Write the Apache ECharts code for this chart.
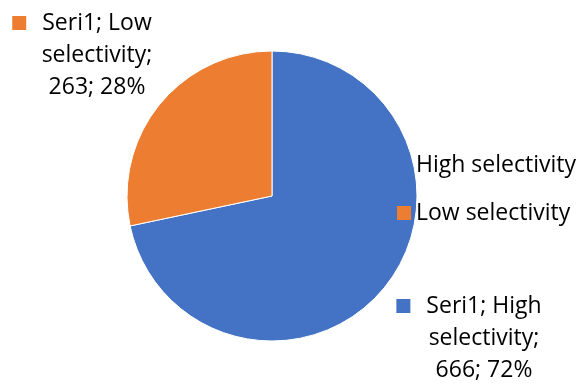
<!DOCTYPE html>
<html>
<head>
<meta charset="utf-8">
<script src="https://cdn.jsdelivr.net/npm/echarts@6/dist/echarts.min.js"></script>
<style>
  html, body { margin: 0; padding: 0; background: #fff; }
  #chart { width: 582px; height: 385px; }
</style>
</head>
<body>
<div id="chart"></div>
<script>
const seriesName = "Seri1";
const categories = ["High selectivity", "Low selectivity"];
const values = [666, 263];
const colors = ["#4472C4", "#ED7D31"];

// where each data label sits (top-centre of the text block)
const labelSpots = [
  { x: 469, y: 290 },
  { x: 82, y: 7 },
];

const font = "'Open Sans', 'Liberation Sans', sans-serif";

const chart = echarts.init(document.getElementById("chart"));

const option = {
  animation: false,
  color: colors,
  legend: {
    orient: "vertical",
    left: 392,
    top: 148,
    itemWidth: 14,
    itemHeight: 14,
    itemGap: 24,
    icon: "rect",
    data: categories,
    itemStyle: { borderWidth: 0 },
    textStyle: {
      fontFamily: font,
      fontSize: 23,
      lineHeight: 24,
      color: "#000",
    },
  },
  series: [
    {
      name: seriesName,
      type: "pie",
      center: [272, 196],
      radius: [0, 145],
      startAngle: 90,
      clockwise: true,
      itemStyle: { borderColor: "#fff", borderWidth: 1 },
      labelLine: { show: false },
      emphasis: { disabled: true },
      label: {
        show: true,
        position: "outside",
        overflow: "none",
        fontFamily: font,
        fontSize: 23,
        lineHeight: 32,
        color: "#000",
        align: "center",
        formatter: function (p) {
          let parts = p.name.split(" ");
          let key = p.dataIndex === 0 ? "m0" : "m1";
          return (
            "{" + key + "|}{g|}" + p.seriesName + "; " + parts[0] + "\n" +
            "{s|}" + parts[1] + ";\n" +
            "{s|}" + p.value + "; " + Math.round(p.percent) + "%"
          );
        },
        rich: {
          m0: { width: 14, height: 14, backgroundColor: colors[0] },
          m1: { width: 14, height: 14, backgroundColor: colors[1] },
          g: { width: 16 },
          s: { width: 30 },
        },
      },
      labelLayout: function (params) {
        let spot = labelSpots[params.dataIndex];
        return {
          x: spot.x,
          y: spot.y,
          align: "center",
          verticalAlign: "top",
        };
      },
      data: categories.map(function (c, i) {
        return { name: c, value: values[i] };
      }),
    },
  ],
};

chart.setOption(option);
</script>
</body>
</html>
